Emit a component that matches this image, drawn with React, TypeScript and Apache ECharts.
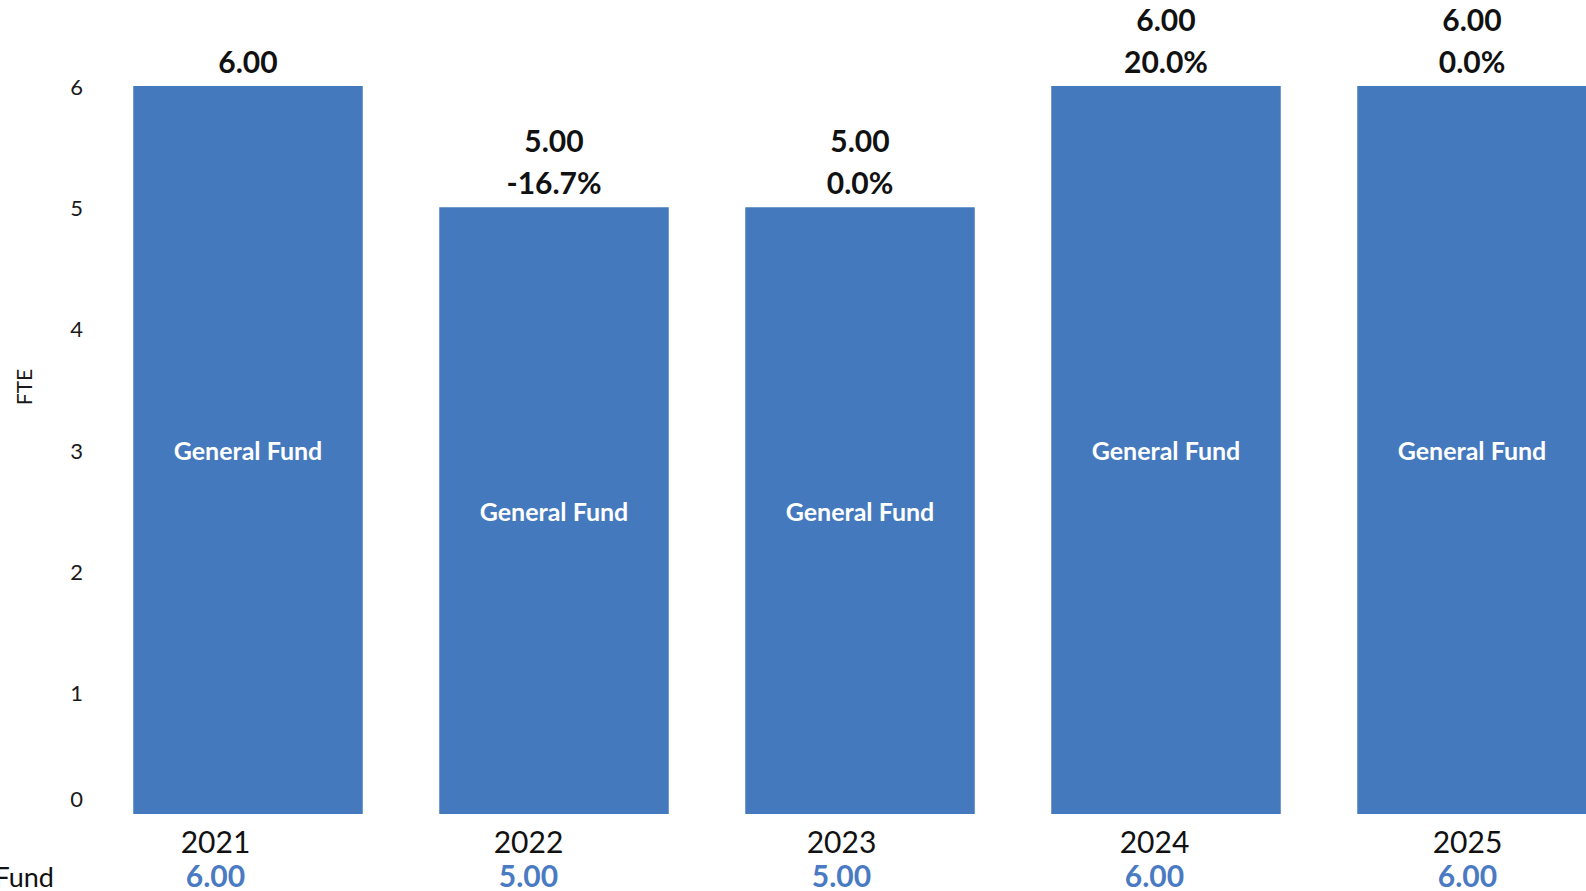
import React, { useEffect, useRef } from "react";
import * as echarts from "echarts";

const years = ["2021", "2022", "2023", "2024", "2025"];
const fteValues = [6, 5, 5, 6, 6];
const changeLabels = ["", "-16.7%", "0.0%", "20.0%", "0.0%"];
const seriesName = "General Fund";
const tableRowLabel = "Fund";
const yTicks = [0, 1, 2, 3, 4, 5, 6];

const FONT = "Lato, 'Open Sans', sans-serif";
const BAR_BLUE = "#4479bd";
const TEXT_BLUE = "#4a7bc2";

export default function App() {
  const ref = useRef<HTMLDivElement>(null);
  useEffect(() => {
    if (!ref.current) return;
    const chart = echarts.init(ref.current, undefined, { renderer: "svg" });
    chart.setOption({
      animation: false,
      backgroundColor: "#ffffff",
      textStyle: { fontFamily: FONT },
      grid: [
        { left: 95, width: 1530, top: 86, bottom: 77, outerBoundsMode: "none", containLabel: false },
        { left: 59, width: 1565, top: 86, bottom: 77, outerBoundsMode: "none", containLabel: false },
      ],
      xAxis: [
        {
          type: "category",
          gridIndex: 0,
          data: years,
          axisLine: { show: false },
          axisTick: { show: false },
          axisLabel: { show: false },
          splitLine: { show: false },
        },
        {
          type: "category",
          gridIndex: 1,
          data: years,
          axisLine: { show: false },
          axisTick: { show: false },
          splitLine: { show: false },
          axisLabel: {
            margin: 10,
            interval: 0,
            formatter: (val: string, idx: number) =>
              `{y|${val}}\n{v|${fteValues[idx].toFixed(2)}}`,
            rich: {
              y: { fontSize: 30, lineHeight: 34, color: "#111", fontFamily: FONT },
              v: { fontSize: 30, lineHeight: 34, color: TEXT_BLUE, fontWeight: "bold", fontFamily: FONT },
            },
          },
        },
      ],
      yAxis: [
        {
          type: "value",
          gridIndex: 0,
          min: yTicks[0],
          max: yTicks[yTicks.length - 1],
          interval: 1,
          axisLine: { show: false },
          axisTick: { show: false },
          splitLine: { show: false },
          axisLabel: {
            margin: 12,
            formatter: (v: number) => (v === 0 ? `{z|${v}}` : `{n|${v}}`),
            rich: {
              n: { fontSize: 22, color: "#1a1a1a", fontFamily: FONT },
              z: { fontSize: 22, color: "#1a1a1a", fontFamily: FONT, padding: [0, 0, 32, 0] },
            },
          },
        },
        {
          type: "value",
          gridIndex: 1,
          min: 0,
          max: 6,
          show: false,
        },
      ],
      graphic: [
        {
          type: "text",
          x: 23,
          y: 387,
          rotation: Math.PI / 2,
          style: {
            text: "FTE",
            align: "center",
            verticalAlign: "middle",
            fontSize: 21,
            fill: "#1a1a1a",
            fontFamily: FONT,
          },
        },
        {
          type: "text",
          x: 54,
          y: 876,
          style: {
            text: tableRowLabel,
            align: "right",
            verticalAlign: "middle",
            fontSize: 27,
            fill: "#111",
            fontFamily: FONT,
          },
        },
      ],
      series: [
        {
          name: seriesName,
          type: "bar",
          xAxisIndex: 0,
          yAxisIndex: 0,
          data: fteValues,
          barCategoryGap: "25%",
          itemStyle: { color: BAR_BLUE },
          label: {
            show: true,
            position: "inside",
            formatter: seriesName,
            color: "#ffffff",
            fontSize: 25,
            fontWeight: "bold",
            fontFamily: FONT,
          },
        },
        {
          name: "labels",
          type: "bar",
          xAxisIndex: 0,
          yAxisIndex: 0,
          data: fteValues,
          barGap: "-100%",
          barCategoryGap: "25%",
          itemStyle: { color: "rgba(0,0,0,0)" },
          silent: true,
          label: {
            show: true,
            position: "top",
            distance: 4,
            formatter: (p: any) => {
              const c = changeLabels[p.dataIndex];
              const v = fteValues[p.dataIndex].toFixed(2);
              return c ? `{a|${v}}\n{a|${c}}` : `{a|${v}}`;
            },
            rich: {
              a: {
                fontSize: 30,
                lineHeight: 42,
                fontWeight: "bold",
                color: "#111",
                fontFamily: FONT,
              },
            },
          },
        },
      ],
    });
    return () => chart.dispose();
  }, []);
  return (
    <div
      ref={ref}
      style={{ position: "fixed", left: 0, top: 0, width: 1586, height: 891 }}
    />
  );
}
